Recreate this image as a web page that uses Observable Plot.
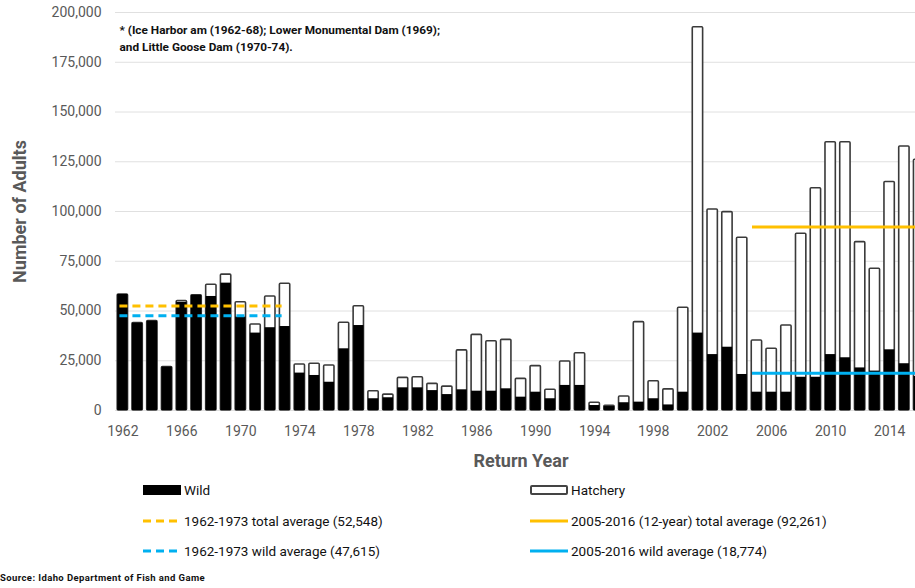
<!DOCTYPE html>
<html><head><meta charset="utf-8">
<script src="https://cdn.jsdelivr.net/npm/d3@7"></script>
<script src="https://cdn.jsdelivr.net/npm/@observablehq/plot@0.6"></script>
<style>
html,body{margin:0;padding:0;background:#fff;overflow:hidden;}
#wrap{position:relative;width:915px;height:588px;overflow:hidden;font-family:Roboto,"Noto Sans",sans-serif;}
#chart{position:absolute;left:0;top:0;width:926px;}
#chart svg{max-width:none !important;}
.lg{position:absolute;display:flex;align-items:center;font-size:13.5px;color:#111;white-space:nowrap;}
.sw{width:38px;height:10px;margin-right:3px;box-sizing:border-box;}
.src{position:absolute;left:0;top:572px;font-size:9.5px;letter-spacing:0.4px;font-weight:bold;color:#111;}
</style></head>
<body><div id="wrap"><div id="chart"></div>
<div class="lg" style="left:143px;top:482px"><div class="sw" style="background:#000"></div>Wild</div>
<div class="lg" style="left:530px;top:482px"><div class="sw" style="background:#fff;border:2px solid #444;border-radius:2px"></div>Hatchery</div>
<div class="lg" style="left:143px;top:513px"><svg width="38" height="10" style="margin-right:3px"><line x1="0" y1="5" x2="38" y2="5" stroke="#FFC000" stroke-width="3" stroke-dasharray="8,5"/></svg>1962-1973 total average (52,548)</div>
<div class="lg" style="left:530px;top:513px"><svg width="38" height="10" style="margin-right:3px"><line x1="0" y1="5" x2="38" y2="5" stroke="#FFC000" stroke-width="3"/></svg>2005-2016 (12-year) total average (92,261)</div>
<div class="lg" style="left:143px;top:543px"><svg width="38" height="10" style="margin-right:3px"><line x1="0" y1="5" x2="38" y2="5" stroke="#00B0F0" stroke-width="3" stroke-dasharray="8,5"/></svg>1962-1973 wild average (47,615)</div>
<div class="lg" style="left:530px;top:543px"><svg width="38" height="10" style="margin-right:3px"><line x1="0" y1="5" x2="38" y2="5" stroke="#00B0F0" stroke-width="3"/></svg>2005-2016 wild average (18,774)</div>
<div class="src">Source: Idaho Department of Fish and Game</div>
</div>
<script>
const years = [1962,1963,1964,1965,1966,1967,1968,1969,1970,1971,1972,1973,1974,1975,1976,1977,1978,1979,1980,1981,1982,1983,1984,1985,1986,1987,1988,1989,1990,1991,1992,1993,1994,1995,1996,1997,1998,1999,2000,2001,2002,2003,2004,2005,2006,2007,2008,2009,2010,2011,2012,2013,2014,2015,2016];
const wild = [58300,43900,44900,21800,54400,57900,57300,64000,46900,38900,41600,42200,18800,17600,14200,31000,42700,5900,6400,11400,11400,10000,8000,10400,9700,9700,10900,6700,9200,5900,12600,12600,2500,2000,3900,4200,5900,2800,9200,38900,28100,31800,18100,9200,9200,9200,16700,16700,28100,26500,21400,19800,30500,23500,17100];
const hatchery = [0,0,0,0,600,0,5900,4300,7500,4300,15700,21500,4300,5900,8400,13100,9700,3800,1600,5000,5300,3400,4000,19800,28300,25100,24600,9200,13100,4500,12000,16200,1400,300,3100,40200,8800,7800,42400,153700,72900,67900,68700,26000,21800,33500,72100,95000,106700,108300,63200,51400,84300,109200,108900];
const xTicks = [1962,1966,1970,1974,1978,1982,1986,1990,1994,1998,2002,2006,2010,2014];
const yTicks = [0,25000,50000,75000,100000,125000,150000,175000,200000];
const avgStart = [1962,1962,2005,2005];
const avgEnd = [1973,1973,2016,2016];
const avgValue = [52548,47615,92261,18774];
const avgColor = ["#FFC000","#00B0F0","#FFC000","#00B0F0"];
const avgDashed = [true,true,false,false];
const note = "* (Ice Harbor am (1962-68); Lower Monumental Dam (1969);\nand Little Goose Dam (1970-74).";

const rows = years.map((y,i)=>({year:y, wild:wild[i], total:wild[i]+hatchery[i]}));
const avgs = avgValue.map((v,i)=>({v, s:avgStart[i], e:avgEnd[i], c:avgColor[i], d:avgDashed[i]}));

const chart = Plot.plot({
  width: 926, height: 476,
  marginLeft: 115, marginRight: 0, marginTop: 12, marginBottom: 66,
  style: {fontFamily: 'Roboto, "Noto Sans", sans-serif', background: "#fff", maxWidth: "none"},
  x: {domain: [1961.5, 2016.5]},
  y: {domain: [0, 200000]},
  marks: [
    Plot.gridY(yTicks, {stroke: "#e0e0e0", strokeOpacity: 1, strokeWidth: 1}),
    Plot.axisY(yTicks, {tickSize: 0, tickPadding: 14, tickFormat: d3.format(","), fontSize: 14, color: "#595959",
      label: "Number of Adults", labelAnchor: "center", labelArrow: "none", labelOffset: 102}),
    Plot.axisX(xTicks, {tickSize: 0, tickPadding: 16, tickFormat: d => String(d), fontSize: 14, color: "#595959",
      label: "Return Year", labelAnchor: "center", labelArrow: "none", labelOffset: 56}),
    Plot.rect(rows, {x1: d=>d.year-0.5, x2: d=>d.year+0.5, y1: 0, y2: "total", insetLeft: 2.2, insetRight: 2.2,
      fill: "#fff", stroke: "#3a3a3a", strokeWidth: 1.6, rx: 1}),
    Plot.rect(rows, {x1: d=>d.year-0.5, x2: d=>d.year+0.5, y1: 0, y2: "wild", insetLeft: 2.2, insetRight: 2.2,
      fill: "#000"}),
    Plot.ruleY(avgs.filter(d=>d.d), {y: "v", x1: d=>d.s-0.2, x2: d=>d.e-0.2, stroke: "c", strokeWidth: 3, strokeDasharray: "8,5"}),
    Plot.ruleY(avgs.filter(d=>!d.d), {y: "v", x1: d=>d.s-0.3, x2: d=>d.e+0.5, stroke: "c", strokeWidth: 3}),
    Plot.text([note], {frameAnchor: "top-left", dx: 4, dy: 10, lineAnchor: "top", lineHeight: 1.4,
      fontSize: 11.8, fontWeight: "bold", fill: "#111", text: d=>d})
  ]
});
chart.style.maxWidth = "none";
chart.querySelectorAll('[aria-label="y-axis label"] text, [aria-label="x-axis label"] text').forEach(t=>{
  t.setAttribute("font-weight","bold"); t.setAttribute("font-size","18"); t.setAttribute("fill","#595959");
});
document.getElementById("chart").appendChild(chart);
</script>
</body></html>
